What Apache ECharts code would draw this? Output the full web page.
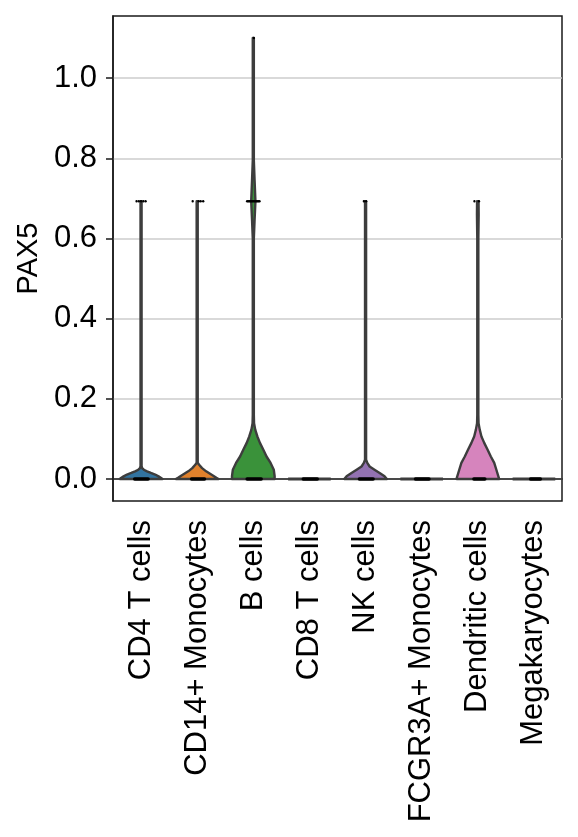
<!DOCTYPE html>
<html>
<head>
<meta charset="utf-8">
<script src="https://cdn.jsdelivr.net/npm/echarts@6/dist/echarts.min.js"></script>
<style>
  html, body { margin: 0; padding: 0; background: #fff; }
  #chart { width: 578px; height: 837px; }
</style>
</head>
<body>
<div id="chart"></div>
<script>
const categories = ['CD4 T cells', 'CD14+ Monocytes', 'B cells', 'CD8 T cells', 'NK cells',
  'FCGR3A+ Monocytes', 'Dendritic cells', 'Megakaryocytes'];
const colors = ['#3274a1', '#e1812c', '#3a923a', '#c03d3e', '#9372b2', '#845b53', '#d684bd', '#7f7f7f'];
const yTicks = [0, 0.2, 0.4, 0.6, 0.8, 1.0];

// violin outline per group: [PAX5 value, half width relative to the widest point]
const cd4Profile = [[0, 1], [0.0025, 0.94], [0.0066, 0.82], [0.011, 0.66], [0.015, 0.46], [0.019, 0.28],
  [0.023, 0.13], [0.027, 0.05], [0.032, 0.025], [0.693, 0.025]];
const cd14Profile = [[0, 1], [0.003, 0.9], [0.0066, 0.79], [0.011, 0.66], [0.019, 0.42], [0.027, 0.23],
  [0.036, 0.08], [0.041, 0.025], [0.693, 0.025]];
const bProfile = [[0, 1], [0.007, 1], [0.023, 0.96], [0.04, 0.81], [0.056, 0.62], [0.073, 0.47], [0.09, 0.31],
  [0.106, 0.19], [0.123, 0.09], [0.139, 0.035], [0.16, 0.025], [0.6, 0.025], [0.646, 0.06], [0.693, 0.1],
  [0.745, 0.06], [0.795, 0.025], [1.1, 0.025]];
const cd8Profile = [[0, 1]];
const nkProfile = [[0, 1], [0.0066, 0.89], [0.015, 0.66], [0.023, 0.42], [0.031, 0.19], [0.04, 0.08],
  [0.048, 0.025], [0.693, 0.025]];
const fcgr3aProfile = [[0, 1]];
const dcProfile = [[0, 1], [0.007, 0.96], [0.023, 0.87], [0.04, 0.77], [0.056, 0.61], [0.073, 0.46], [0.09, 0.3],
  [0.106, 0.17], [0.123, 0.09], [0.139, 0.035], [0.16, 0.025], [0.6, 0.025], [0.66, 0.04], [0.693, 0.035]];
const megaProfile = [[0, 1]];
const profiles = [cd4Profile, cd14Profile, bProfile, cd8Profile, nkProfile, fcgr3aProfile, dcProfile, megaProfile];

// jittered cells sitting at zero: left / right spread, as a fraction of one category slot
const zeroSpread = [[-0.114, 0.125], [-0.10, 0.13], [-0.11, 0.14], [-0.11, 0.14], [-0.11, 0.135],
  [-0.11, 0.13], [-0.07, 0.125], [-0.06, 0.115]];
// cells above zero: [group index, value, jitter]
const upperDots = [
  [0, 0.693, -0.08], [0, 0.693, -0.04], [0, 0.693, 0], [0, 0.693, 0.04], [0, 0.693, 0.08],
  [1, 0.693, -0.08], [1, 0.693, 0.027], [1, 0.693, 0.062], [1, 0.693, 0.107],
  [2, 0.693, -0.11], [2, 0.693, -0.09], [2, 0.693, -0.07], [2, 0.693, -0.05], [2, 0.693, -0.03],
  [2, 0.693, -0.01], [2, 0.693, 0.01], [2, 0.693, 0.03], [2, 0.693, 0.05], [2, 0.693, 0.07],
  [2, 0.693, 0.09], [2, 0.693, 0.11], [2, 1.1, 0.01],
  [4, 0.693, -0.03], [4, 0.693, 0.01],
  [6, 0.693, -0.06], [6, 0.693, 0.02]
];

const FONT = "'Liberation Sans', Arial, sans-serif";
const chart = echarts.init(document.getElementById('chart'));

function violinItem(params, api) {
  const idx = api.value(0);
  const prof = profiles[idx];
  const band = api.size([1, 0])[0];
  const maxHW = band * 0.38;
  const cx = api.coord([idx, 0])[0];
  if (prof.length === 1) {
    const y0 = api.coord([idx, prof[0][0]])[1];
    return {
      type: 'line',
      shape: { x1: cx - maxHW, y1: y0, x2: cx + maxHW, y2: y0 },
      style: { stroke: '#3d3d3d', lineWidth: 3 }
    };
  }
  const right = prof.map(p => [cx + p[1] * maxHW, api.coord([idx, p[0]])[1]]);
  const left = prof.slice().reverse().map(p => [cx - p[1] * maxHW, api.coord([idx, p[0]])[1]]);
  return {
    type: 'polygon',
    shape: { points: right.concat(left) },
    style: { fill: colors[idx], stroke: '#3d3d3d', lineWidth: 2.4, lineJoin: 'round' }
  };
}

function zeroItem(params, api) {
  const idx = api.value(0);
  const band = api.size([1, 0])[0];
  const pt = api.coord([idx, 0]);
  const s = zeroSpread[idx];
  return {
    type: 'line',
    shape: { x1: pt[0] + s[0] * band, y1: pt[1], x2: pt[0] + s[1] * band, y2: pt[1] },
    style: { stroke: '#000', lineWidth: 3.5, lineCap: 'round' }
  };
}

function dotItem(params, api) {
  const idx = api.value(0);
  const band = api.size([1, 0])[0];
  const pt = api.coord([idx, api.value(1)]);
  return {
    type: 'circle',
    shape: { cx: pt[0] + api.value(2) * band, cy: pt[1], r: 1.2 },
    style: { fill: '#000' }
  };
}

const option = {
  animation: false,
  backgroundColor: '#fff',
  grid: {
    left: 113, top: 16, width: 449, height: 485,
    show: true, borderColor: '#1a1a1a', borderWidth: 1.5, backgroundColor: 'transparent'
  },
  xAxis: {
    type: 'category',
    data: categories,
    boundaryGap: true,
    axisLine: { lineStyle: { color: '#1a1a1a', width: 1.5 } },
    axisTick: { alignWithLabel: true, length: 7, lineStyle: { color: '#1a1a1a', width: 1.5 } },
    axisLabel: { interval: 0, rotate: 90, margin: 19, fontSize: 31, color: '#000', fontFamily: FONT },
    splitLine: { show: false }
  },
  yAxis: {
    type: 'value',
    min: -0.055,
    max: 1.155,
    name: 'PAX5',
    nameLocation: 'middle',
    nameGap: 68,
    nameTextStyle: { fontSize: 29, color: '#000', fontFamily: FONT },
    axisLine: { show: true, lineStyle: { color: '#1a1a1a', width: 1.5 } },
    axisTick: { show: true, length: 7, customValues: yTicks, lineStyle: { color: '#1a1a1a', width: 1.5 } },
    axisLabel: { customValues: yTicks, margin: 16, fontSize: 31, color: '#000', fontFamily: FONT,
      formatter: v => v.toFixed(1) },
    splitLine: { show: true, lineStyle: { color: '#cccccc', width: 1.5 } }
  },
  series: [
    { type: 'custom', renderItem: violinItem, data: categories.map((c, i) => [i]), z: 2 },
    { type: 'custom', renderItem: zeroItem, data: categories.map((c, i) => [i]), z: 3 },
    { type: 'custom', renderItem: dotItem, data: upperDots, z: 4 }
  ]
};
chart.setOption(option);
</script>
</body>
</html>
